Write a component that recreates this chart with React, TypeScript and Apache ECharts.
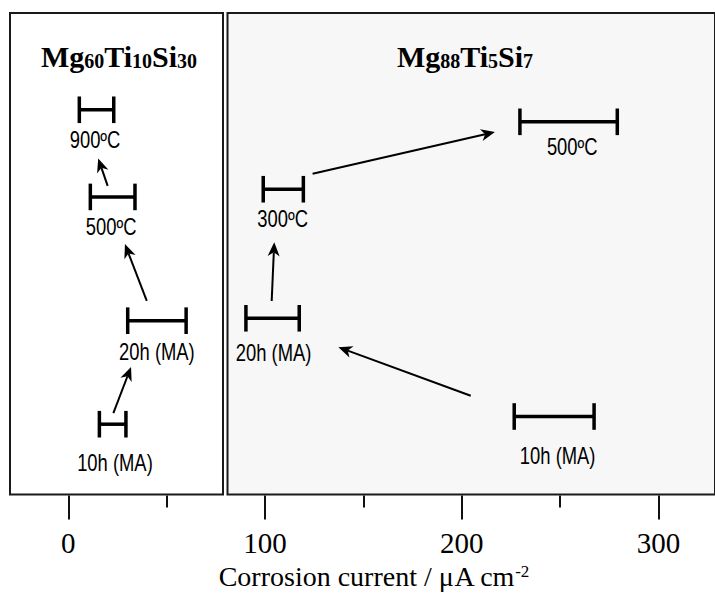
import React, { useEffect, useRef } from "react";
import * as echarts from "echarts";

// ---------- data ----------
const leftTitle = "{a|Mg}{b|60}{a|Ti}{b|10}{a|Si}{b|30}";
const rightTitle = "{a|Mg}{b|88}{a|Ti}{b|5}{a|Si}{b|7}";
const axisTitle = "{a|Corrosion current / }{m|μ}{a|A cm}{s|-2}";

const leftLabels = ["10h (MA)", "20h (MA)", "500ºC", "900ºC"];
const leftLow = [15.8, 30.2, 11.2, 5.6];
const leftHigh = [29.3, 59.9, 33.9, 23.1];
const leftLevel = [1.46, 3.61, 6.18, 7.99];

const rightLabels = ["10h (MA)", "20h (MA)", "300ºC", "500ºC"];
const rightLow = [226.7, 90.3, 99.1, 229.6];
const rightHigh = [267.3, 117.4, 119.5, 279.1];
const rightLevel = [1.62, 3.66, 6.34, 7.74];

// arrows: [x1, y1, x2 (tip), y2 (tip)]
const leftArrows = [
  [22.9, 1.69, 31.9, 2.65],
  [39.9, 4.02, 28.8, 5.2],
  [20.0, 6.41, 15.2, 6.98],
];
const rightArrows = [
  [204.6, 2.05, 137.3, 3.06],
  [103.4, 4.02, 104.7, 5.24],
  [124.2, 6.66, 216.9, 7.53],
];

const majorTicks = [0, 100, 200, 300];
const minorTicks = [50, 150, 250];

// ---------- layout / style ----------
const ZERO_PX = 68.3;
const PX_PER_UNIT = 1.967;
const valAt = (px: number) => (px - ZERO_PX) / PX_PER_UNIT;
const TOP = 13;
const BOTTOM = 494.5;
const LEFT_L = 10, LEFT_R = 223;
const RIGHT_L = 227.5, RIGHT_R = 715;

const leftLabelShift = [[2.3, 39], [0, 31], [-1.5, 30], [-1.5, 30]];
const rightLabelShift = [[3.5, 39], [1, 34], [-0.6, 29], [3.6, 25]];

const SERIF = "'Liberation Serif', 'Times New Roman', serif";
const SANS = "'Liberation Sans', Arial, sans-serif";

function barSeries(gridIdx: number, low: number[], high: number[], lvl: number[], labels: string[], shift: number[][]) {
  return {
    type: "custom",
    xAxisIndex: gridIdx,
    yAxisIndex: gridIdx,
    encode: { x: [0, 1], y: 2 },
    data: low.map((lo, i) => [lo, high[i], lvl[i]]),
    renderItem: (params: any, api: any) => {
      const a = api.coord([api.value(0), api.value(2)]);
      const b = api.coord([api.value(1), api.value(2)]);
      const i = params.dataIndex;
      const cy = a[1];
      const st = { stroke: "#000", lineWidth: 3.5 };
      return {
        type: "group",
        children: [
          { type: "line", shape: { x1: a[0], y1: cy, x2: b[0], y2: cy }, style: st },
          { type: "line", shape: { x1: a[0], y1: cy - 13.3, x2: a[0], y2: cy + 13.3 }, style: st },
          { type: "line", shape: { x1: b[0], y1: cy - 13.3, x2: b[0], y2: cy + 13.3 }, style: st },
          {
            type: "text",
            x: (a[0] + b[0]) / 2 + shift[i][0],
            y: cy + shift[i][1],
            scaleX: 0.8,
            style: {
              text: labels[i],
              fill: "#000",
              fontFamily: SANS,
              fontSize: 23,
              align: "center",
              verticalAlign: "middle",
            },
          },
        ],
      };
    },
  };
}

function arrowSeries(gridIdx: number, arrows: number[][]) {
  return {
    type: "custom",
    xAxisIndex: gridIdx,
    yAxisIndex: gridIdx,
    encode: { x: [0, 2], y: [1, 3] },
    data: arrows,
    renderItem: (params: any, api: any) => {
      const p1 = api.coord([api.value(0), api.value(1)]);
      const p2 = api.coord([api.value(2), api.value(3)]);
      const dx = p2[0] - p1[0], dy = p2[1] - p1[1];
      const len = Math.sqrt(dx * dx + dy * dy);
      const ux = dx / len, uy = dy / len;
      const px = -uy, py = ux;
      const L = 14, W = 6, N = 10;
      const base = [p2[0] - ux * L, p2[1] - uy * L];
      const notch = [p2[0] - ux * N, p2[1] - uy * N];
      return {
        type: "group",
        children: [
          { type: "line", shape: { x1: p1[0], y1: p1[1], x2: notch[0], y2: notch[1] }, style: { stroke: "#000", lineWidth: 2 } },
          {
            type: "polygon",
            shape: {
              points: [
                [p2[0], p2[1]],
                [base[0] + px * W, base[1] + py * W],
                notch,
                [base[0] - px * W, base[1] - py * W],
              ],
            },
            style: { fill: "#000" },
          },
        ],
      };
    },
  };
}

export default function App() {
  const ref = useRef<HTMLDivElement>(null);
  useEffect(() => {
    if (!ref.current) return;
    const chart = echarts.init(ref.current, null, { renderer: "svg" });
    const axisMin = valAt(LEFT_L);
    const axisMax = valAt(712);
    const hiddenX = { show: false };
    const opt: any = {
      animation: false,
      grid: [
        { left: LEFT_L, top: TOP, width: LEFT_R - LEFT_L, height: BOTTOM - TOP, show: true, backgroundColor: "#ffffff", borderColor: "#1a1a1a", borderWidth: 2 },
        { left: RIGHT_L, top: TOP, width: RIGHT_R - RIGHT_L, height: BOTTOM - TOP, show: true, backgroundColor: "#f7f7f7", borderColor: "#1a1a1a", borderWidth: 2 },
        { left: LEFT_L, top: TOP, width: 712 - LEFT_L, height: BOTTOM + 1 - TOP },
      ],
      xAxis: [
        { type: "value", gridIndex: 0, min: valAt(LEFT_L), max: valAt(LEFT_R), ...hiddenX },
        { type: "value", gridIndex: 1, min: valAt(RIGHT_L), max: valAt(RIGHT_R), ...hiddenX },
        {
          type: "value", gridIndex: 2, min: axisMin, max: axisMax, position: "bottom",
          axisLine: { show: false }, splitLine: { show: false },
          axisTick: { show: true, customValues: majorTicks, length: 24, lineStyle: { color: "#111", width: 2 } },
          axisLabel: { show: true, customValues: majorTicks, fontFamily: SERIF, fontSize: 29, color: "#000", margin: 33 },
        },
        {
          type: "value", gridIndex: 2, min: axisMin, max: axisMax, position: "bottom",
          axisLine: { show: false }, splitLine: { show: false },
          axisTick: { show: true, customValues: minorTicks, length: 12, lineStyle: { color: "#111", width: 2 } },
          axisLabel: { show: false },
        },
      ],
      yAxis: [
        { type: "value", gridIndex: 0, min: 0, max: 10, show: false },
        { type: "value", gridIndex: 1, min: 0, max: 10, show: false },
        { type: "value", gridIndex: 2, min: 0, max: 10, show: false },
      ],
      graphic: [
        {
          type: "text", x: 119, y: 56.3,
          style: {
            text: leftTitle, align: "center", verticalAlign: "middle",
            rich: {
              a: { fontFamily: SERIF, fontSize: 30, fontWeight: "bold", fill: "#000", verticalAlign: "bottom" },
              b: { fontFamily: SERIF, fontSize: 20, fontWeight: "bold", fill: "#000", verticalAlign: "bottom" },
            },
          },
        },
        {
          type: "text", x: 465, y: 56.3,
          style: {
            text: rightTitle, align: "center", verticalAlign: "middle",
            rich: {
              a: { fontFamily: SERIF, fontSize: 30, fontWeight: "bold", fill: "#000", verticalAlign: "bottom" },
              b: { fontFamily: SERIF, fontSize: 20, fontWeight: "bold", fill: "#000", verticalAlign: "bottom" },
            },
          },
        },
        {
          type: "text", x: 374, y: 576.5,
          style: {
            text: axisTitle, align: "center", verticalAlign: "middle",
            rich: {
              a: { fontFamily: SERIF, fontSize: 28, fill: "#000" },
              m: { fontFamily: SERIF, fontSize: 28, fill: "#000" },
              s: { fontFamily: SERIF, fontSize: 17, fill: "#000", verticalAlign: "top" },
            },
          },
        },
      ],
      series: [
        barSeries(0, leftLow, leftHigh, leftLevel, leftLabels, leftLabelShift),
        barSeries(1, rightLow, rightHigh, rightLevel, rightLabels, rightLabelShift),
        arrowSeries(0, leftArrows),
        arrowSeries(1, rightArrows),
      ],
    };
    chart.setOption(opt);
    return () => chart.dispose();
  }, []);
  return (
    <div
      ref={ref}
      style={{ position: "fixed", left: 0, top: 0, width: 715, height: 604, background: "#fff" }}
    />
  );
}
